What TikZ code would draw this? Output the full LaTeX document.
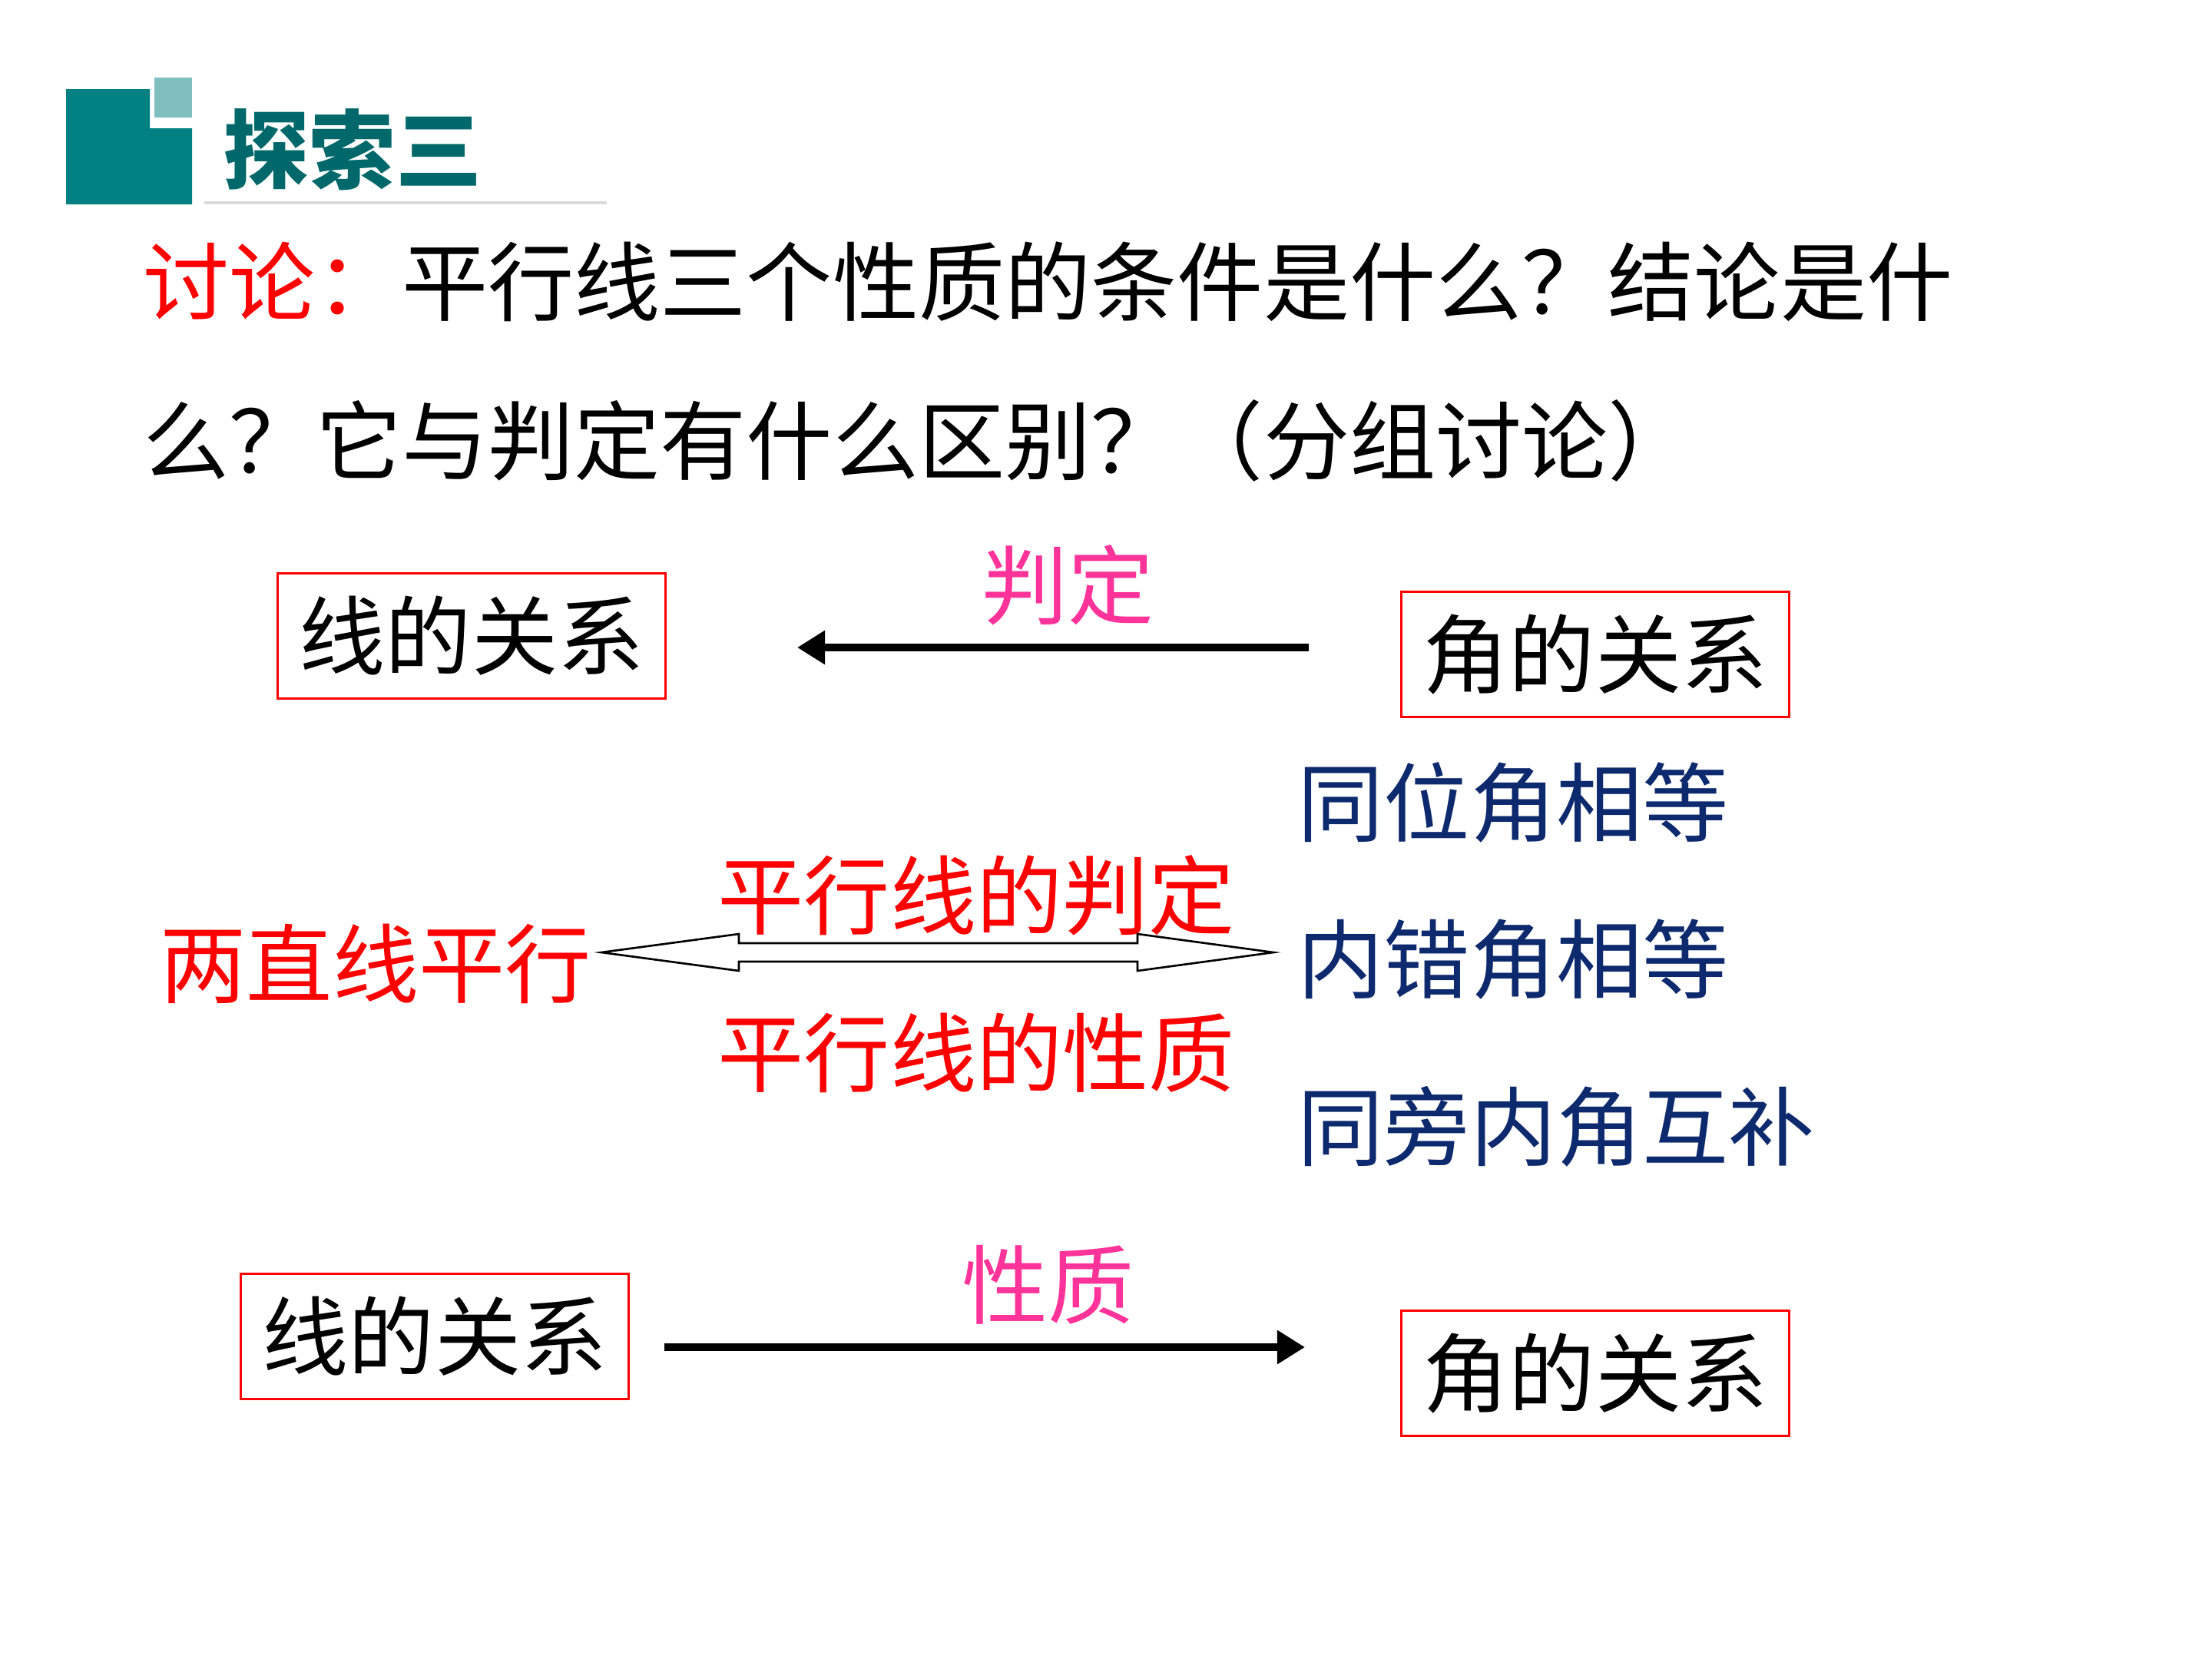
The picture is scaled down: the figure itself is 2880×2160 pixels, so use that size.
\documentclass[tikz,border=0pt]{standalone}
\usepackage{fontspec}
\setmainfont{Noto Sans CJK SC}[Kerning=Off]
\definecolor{TealDark}{HTML}{008080}
\definecolor{TealLight}{HTML}{80BFBF}
\definecolor{TitleTeal}{HTML}{00686A}
\definecolor{RuleGray}{HTML}{D9D9D9}
\definecolor{NavyText}{HTML}{0D2A6E}
\definecolor{PinkText}{HTML}{FF3399}
\usetikzlibrary{arrows.meta,positioning,calc}
\newcommand\slidefont{\fontsize{31.9pt}{38pt}\selectfont}
\tikzset{
  plainText/.style={inner sep=0pt, font=\slidefont, anchor=west},
  redText/.style={plainText, text=red},
  navyText/.style={plainText, text=NavyText},
  pinkText/.style={plainText, text=PinkText},
  relBox/.style={draw=red, line width=0.85pt, fill=white, inner sep=0pt, minimum width=5.05cm, minimum height=1.62cm, font=\slidefont},
  thickArrow/.style={-{Triangle[length=0.36cm,width=0.42cm]}, line width=2.6pt, draw=black},
  hollowArrow/.style={draw=black, line width=0.75pt, fill=white, line join=miter}
}
\begin{document}
\begin{tikzpicture}[x=0.01cm, y=-0.01cm]
\useasboundingbox (0,0) rectangle (2880,2160);
% title bar
\fill[TealDark] (86,116) -- (195,116) -- (195,167) -- (250,167) -- (250,266) -- (86,266) -- cycle;
\fill[TealLight] (201,101) rectangle (250,153);
\draw[RuleGray, line width=1.1pt] (266,264) -- (790,264);
\node[plainText, text=TitleTeal, font=\slidefont\bfseries] (title) at (290,195) {探索三};

% question
\node[plainText] (qLineA) at (186,367) {{\color{red}讨论：}平行线三个性质的条件是什么？结论是什};
\node[plainText] (qLineB) at (186,574) {么？它与判定有什么区别？（分组讨论）};

% top row
\node[relBox] (lineRelA) at (614,828) {线的关系};
\node[relBox] (angleRelA) at (2077,852) {角的关系};
\node[pinkText] (panding) at (1278,762) {判定};
\coordinate (pdStart) at (1704,843);
\coordinate (pdEnd) at (1038,843);
\draw[thickArrow] (pdStart) -- (pdEnd);

% middle
\node[redText] (twoLines) at (208,1255) {两直线平行};
\node[redText] (judgeLbl) at (934,1166) {平行线的判定};
\node[redText] (propLbl) at (934,1371) {平行线的性质};
\node[navyText] (corrAng) at (1689,1045) {同位角相等};
\node[navyText] (altAng) at (1689,1249) {内错角相等};
\node[navyText] (sideAng) at (1689,1467) {同旁内角互补};
\coordinate (dblLeft) at (783,1240);
\coordinate (dblRight) at (1658,1240);
\draw[hollowArrow] (dblLeft) -- ++(179,24) -- ++(0,-12) -- ++(519,0) -- ++(0,12)
  -- (dblRight) -- ++(-177,-24) -- ++(0,12) -- ++(-519,0) -- ++(0,-12) -- cycle;

% bottom row
\node[relBox] (lineRelB) at (566,1740) {线的关系};
\node[relBox] (angleRelB) at (2077,1788) {角的关系};
\node[pinkText] (xingzhi) at (1252,1673) {性质};
\coordinate (xzStart) at (865,1754);
\coordinate (xzEnd) at (1699,1754);
\draw[thickArrow] (xzStart) -- (xzEnd);
\end{tikzpicture}
\end{document}
